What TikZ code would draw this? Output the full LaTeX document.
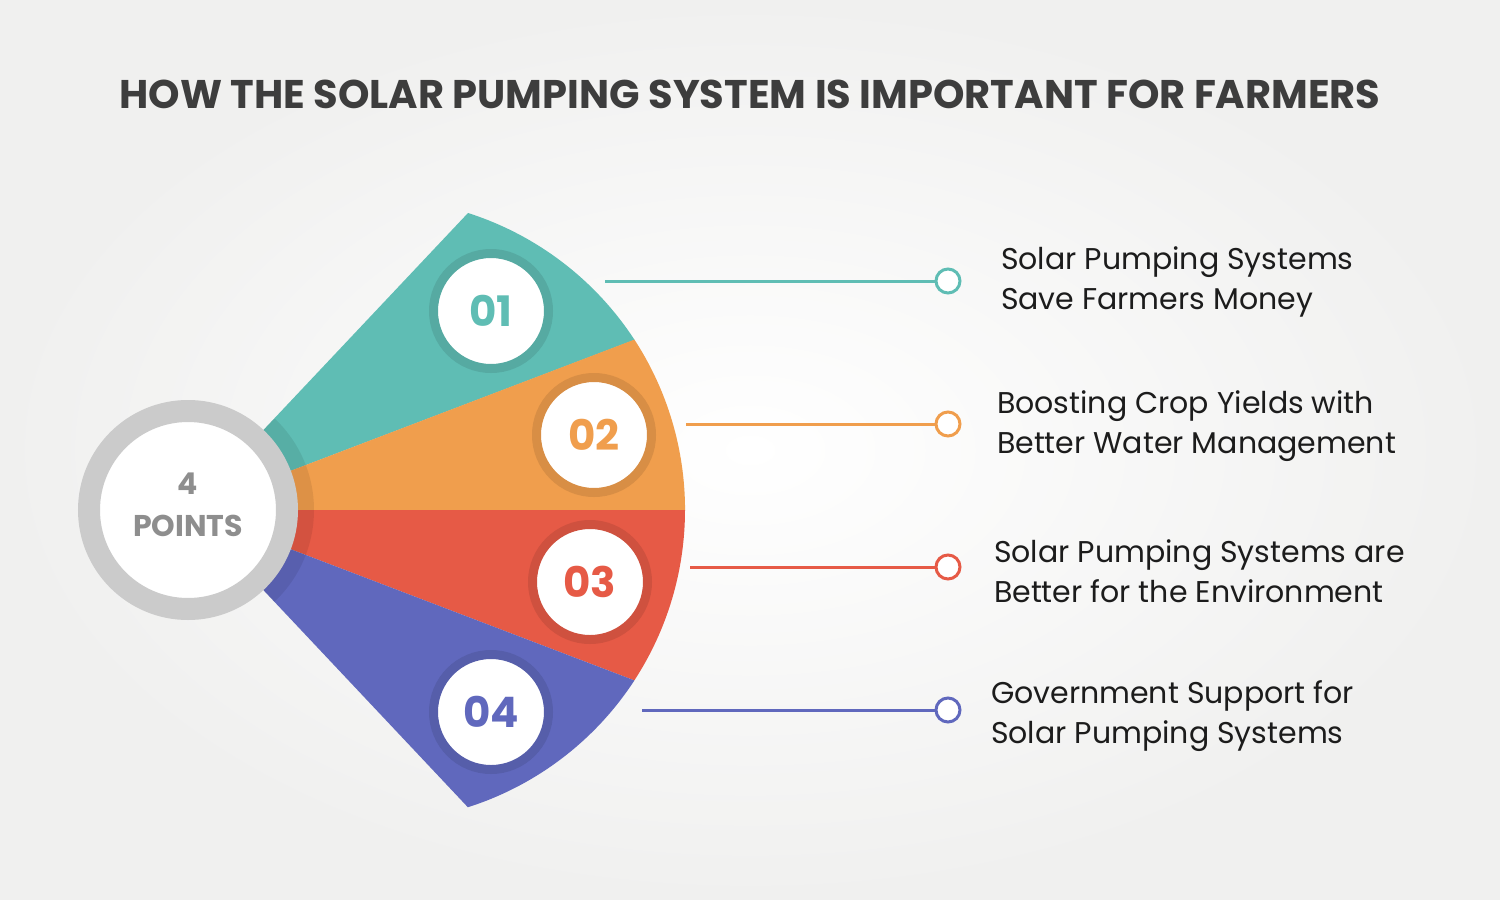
\documentclass[tikz,border=0pt]{standalone}
\usepackage{fontspec}
\setmainfont{Poppins}
\usepackage{tikz}
\usetikzlibrary{positioning}

\definecolor{bgc}{HTML}{F0F0EF}
\definecolor{tealc}{HTML}{5FBDB4}
\definecolor{orangec}{HTML}{F09E4D}
\definecolor{redc}{HTML}{E65A46}
\definecolor{bluec}{HTML}{6068BD}
\definecolor{ringc}{HTML}{CBCBCB}
\definecolor{greyt}{HTML}{8E8E8E}
\definecolor{titlec}{HTML}{3D3D3D}
\definecolor{textc}{HTML}{1C1C1C}

\begin{document}
\begin{tikzpicture}[x=0.5pt, y=-0.5pt,
  badge/.style={circle, fill=white, draw=#1!90!black, line width=4.5pt,
    minimum size=57.5pt, inner sep=0pt, text=#1, font=\bfseries\fontsize{21}{21}\selectfont},
  dot/.style={circle, fill=white, draw=#1, line width=1.5pt, minimum size=12pt, inner sep=0pt},
  link/.style={draw=#1, line width=1.5pt},
  point/.style={anchor=west, align=left, text=textc, font=\fontsize{15}{20}\selectfont}]

  % Background
  \useasboundingbox (0,0) rectangle (1500,900);
  \shade[inner color=white, outer color=bgc] (0,0) rectangle (1500,900);

  % Fan sectors
  \coordinate (fc) at (188,510);
  \fill[tealc] (fc) -- (468,213) arc[start angle=-72.3, end angle=-33.1, radius=312] -- cycle;
  \fill[orangec] (fc) -- (634.4,339.6) arc[start angle=-33.1, end angle=0, radius=312] -- cycle;
  \fill[redc] (fc) -- (685,510) arc[start angle=0, end angle=33.1, radius=312] -- cycle;
  \fill[bluec] (fc) -- (634.4,680.4) arc[start angle=33.1, end angle=72.3, radius=312] -- cycle;

  % Shadow round the centre
  \begin{scope}
    \clip (fc) -- (468,213) arc[start angle=-72.3, end angle=72.3, radius=312] -- cycle;
    \fill[black, opacity=0.08] (fc) circle[radius=126];
  \end{scope}

  % Centre circle
  \node (pts) [circle, fill=white, draw=ringc, line width=11pt, minimum size=99pt, inner sep=0pt,
    align=center, text=greyt, font=\bfseries\fontsize{15}{21}\selectfont] at (fc) {4\\POINTS\\[-16pt]};

  % Number badges
  \node (b1) [badge=tealc] at (491,311) {01};
  \node (b2) [badge=orangec] at (594,435) {02};
  \node (b3) [badge=redc] at (590,582) {03};
  \node (b4) [badge=bluec] at (491,712) {04};

  % Leader lines
  \coordinate (s1) at (605,281);
  \coordinate (s2) at (686,424);
  \coordinate (s3) at (690,567);
  \coordinate (s4) at (642,710);
  \node (d1) [dot=tealc] at (948,281) {};
  \node (d2) [dot=orangec] at (948,424) {};
  \node (d3) [dot=redc] at (948,567) {};
  \node (d4) [dot=bluec] at (948,710) {};
  \draw[link=tealc] (s1) -- (d1.west);
  \draw[link=orangec] (s2) -- (d2.west);
  \draw[link=redc] (s3) -- (d3.west);
  \draw[link=bluec] (s4) -- (d4.west);

  % Texts
  \node (p1) [point] at (994,282) {Solar Pumping Systems\\Save Farmers Money};
  \node (p2) [point] at (990,426) {Boosting Crop Yields with\\Better Water Management};
  \node (p3) [point] at (987,571) {Solar Pumping Systems are\\Better for the Environment};
  \node (p4) [point] at (984,716) {Government Support for\\Solar Pumping Systems};

  % Title
  \node (title) [text=titlec, font=\bfseries\fontsize{20}{20}\selectfont] at (750,94)
    {HOW THE SOLAR PUMPING SYSTEM IS IMPORTANT FOR FARMERS};

\end{tikzpicture}
\end{document}
